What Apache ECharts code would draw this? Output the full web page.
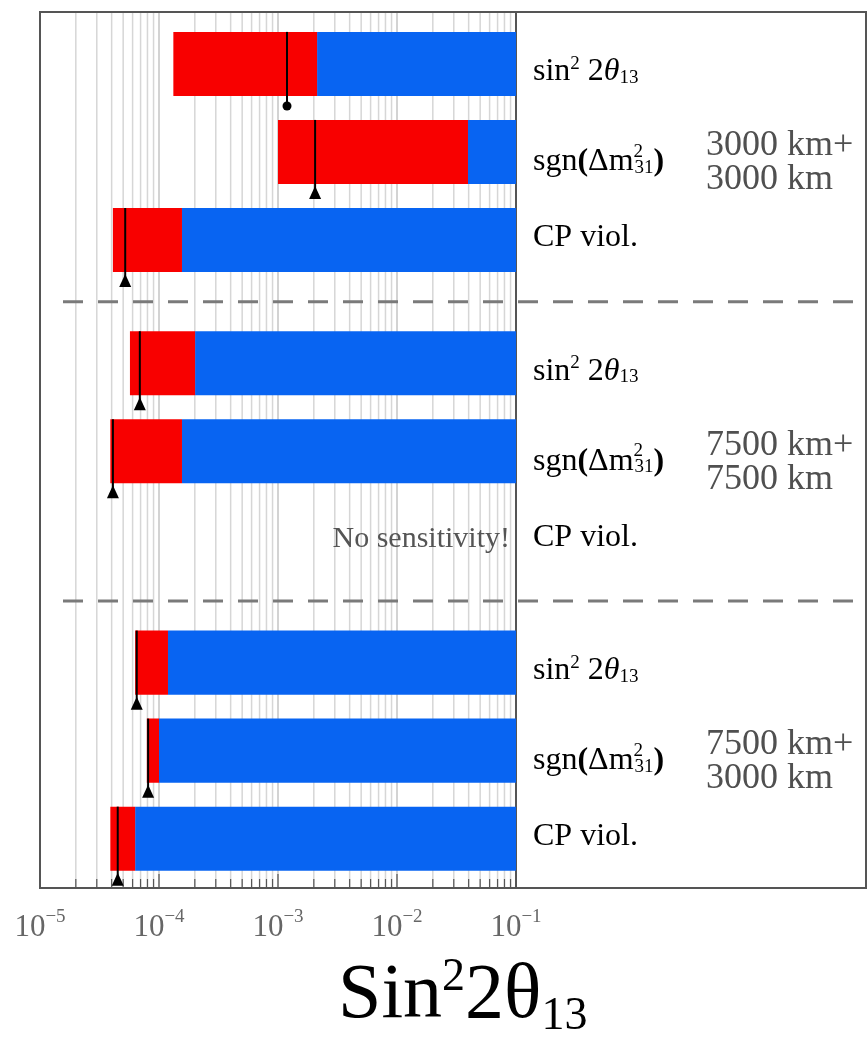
<!DOCTYPE html>
<html>
<head>
<meta charset="utf-8">
<script src="https://cdn.jsdelivr.net/npm/echarts@6/dist/echarts.min.js"></script>
<style>
  html, body { margin: 0; padding: 0; background: #fff; }
  #chart { width: 868px; height: 1041px; }
</style>
</head>
<body>
<div id="chart"></div>
<script>
// rows, top to bottom: three per baseline setup
var rowKinds = ['sin', 'sgn', 'cp', 'sin', 'sgn', 'cp', 'sin', 'sgn', 'cp'];
var groupLabels = [
  ['3000 km+', '3000 km'],
  ['7500 km+', '7500 km'],
  ['7500 km+', '3000 km']
];
// red band: from redStart to redEnd, blue band: redEnd to blueEnd
var redStart = [1.32e-4, 1.0e-3, 4.1e-5, 5.7e-5, 3.9e-5, null, 6.3e-5, 7.9e-5, 3.9e-5];
var redEnd   = [2.13e-3, 3.95e-2, 1.56e-4, 2.01e-4, 1.56e-4, null, 1.19e-4, 1.0e-4, 6.3e-5];
var blueEnd  = [0.1, 0.1, 0.1, 0.1, 0.1, null, 0.1, 0.1, 0.1];
// black arrow markers
var markerVal   = [1.19e-3, 2.05e-3, 5.2e-5, 6.9e-5, 4.1e-5, null, 6.5e-5, 8.1e-5, 4.5e-5];
var markerShape = ['dot', 'tri', 'tri', 'tri', 'tri', null, 'tri', 'tri', 'tri'];
var noSensRow = 5;
var noSensText = 'No sensitivity!';
var xTicks = [1e-5, 1e-4, 1e-3, 1e-2, 1e-1];

var chartDom = document.getElementById('chart');
var myChart = echarts.init(chartDom);
var option;

var SERIF = '"Liberation Serif", "DejaVu Serif", serif';
var TXT = '#505050';
var GROUP_STEP = 3.4;
var Y_MIN = -0.59, Y_MAX = 9.36;
var HALF_H = 0.364;

function rowY(i) {
  return Math.floor(i / 3) * GROUP_STEP + (i % 3);
}

// minor grid positions (2..9 in each decade) plus the decades
var gridVals = [];
for (var d = -5; d <= -2; d++) {
  for (var m = 1; m <= 9; m++) gridVals.push(+(m * Math.pow(10, d)).toPrecision(3));
}
gridVals.push(0.1);

var barData = [];
for (var i = 0; i < rowKinds.length; i++) {
  barData.push([redStart[i], redEnd[i], blueEnd[i], rowY(i), markerVal[i], i]);
}

var labelRich = {
  n: { fontFamily: SERIF, fontSize: 32, color: TXT },
  it: { fontFamily: SERIF, fontSize: 32, fontStyle: 'italic', color: TXT },
  sup: { fontFamily: SERIF, fontSize: 19, color: TXT, padding: [0, 0, 16, 0] },
  sq: { fontFamily: SERIF, fontSize: 19, color: TXT, width: 1, padding: [0, 0, 20, 0] },
  sub: { fontFamily: SERIF, fontSize: 19, color: TXT, padding: [12, 0, 0, 0] },
  b: { fontFamily: SERIF, fontSize: 32, fontWeight: 'bold', color: '#222' }
};
var rowText = {
  sin: '{n|sin}{sup|2}{n| 2}{it|θ}{sub|13}',
  sgn: '{n|sgn}{b|(}{n|Δm}{sq|2}{sub|31}{b|)}',
  cp: '{n|CP viol.}'
};
var rowDy = { sin: 8, sgn: 10, cp: -2 };

option = {
  animation: false,
  backgroundColor: '#fff',
  grid: { left: 40, right: 352, top: 12, bottom: 153, containLabel: false },
  xAxis: {
    type: 'log',
    logBase: 10,
    min: 1e-5,
    max: 0.1,
    axisLine: { show: false },
    axisTick: { show: false },
    splitLine: { show: false },
    axisLabel: {
      margin: 16,
      formatter: function (v) {
        var e = Math.round(Math.log10(v));
        return '{b|10}{s|−' + Math.abs(e) + '}';
      },
      rich: {
        b: { fontFamily: SERIF, fontSize: 31, color: '#666', padding: [8, 0, 0, 0] },
        s: { fontFamily: SERIF, fontSize: 19, color: '#666', padding: [0, 0, 12, 0] }
      }
    }
  },
  yAxis: {
    type: 'value',
    inverse: true,
    min: Y_MIN,
    max: Y_MAX,
    show: false
  },
  series: [
    {
      // vertical grid lines and bottom ticks
      type: 'custom',
      silent: true,
      z: 1,
      data: gridVals.map(function (v) { return [v]; }),
      encode: { x: 0 },
      renderItem: function (params, api) {
        var v = api.value(0);
        var top = api.coord([v, Y_MIN]);
        var bot = api.coord([v, Y_MAX]);
        var major = Math.abs(Math.log10(v) - Math.round(Math.log10(v))) < 1e-6;
        var isEnd = v >= 0.1;
        return {
          type: 'group',
          children: [
            {
              type: 'line',
              shape: { x1: top[0], y1: top[1], x2: bot[0], y2: bot[1] },
              style: { stroke: isEnd ? '#555' : (major ? '#c4c4c4' : '#d6d6d6'), lineWidth: isEnd ? 2 : 1.5 }
            },
            {
              type: 'line',
              shape: { x1: bot[0], y1: bot[1], x2: bot[0], y2: bot[1] - (major ? 14 : 9) },
              style: { stroke: '#555', lineWidth: 1.2 }
            }
          ]
        };
      }
    },
    {
      // red / blue bands with markers and row labels
      type: 'custom',
      z: 2,
      data: barData,
      encode: { x: [0, 1, 2], y: 3 },
      renderItem: function (params, api) {
        var idx = api.value(5);
        var y = api.value(3);
        var kind = rowKinds[idx];
        var children = [];
        var endPt = api.coord([0.1, y]);
        children.push({
          type: 'text',
          style: {
            text: rowText[kind],
            rich: labelRich,
            x: endPt[0] + 17,
            y: endPt[1] + rowDy[kind],
            textVerticalAlign: 'middle'
          }
        });
        if (idx % 3 === 1) {
          var g = groupLabels[Math.floor(idx / 3)];
          children.push({
            type: 'text',
            style: {
              text: g[0] + '\n' + g[1],
              x: endPt[0] + 190,
              y: endPt[1] + 11,
              font: '36px ' + SERIF,
              lineHeight: 34,
              fill: TXT,
              textVerticalAlign: 'middle'
            }
          });
        }
        if (idx === noSensRow) {
          children.push({
            type: 'text',
            style: {
              text: noSensText,
              x: endPt[0] - 6,
              y: endPt[1],
              font: '30px ' + SERIF,
              fill: '#555',
              textAlign: 'right',
              textVerticalAlign: 'middle'
            }
          });
        }
        var r0 = api.value(0), r1 = api.value(1), b1 = api.value(2);
        if (r0 && r1 && b1) {
          var a = api.coord([r0, y - HALF_H]);
          var b = api.coord([r1, y + HALF_H]);
          var c = api.coord([b1, y + HALF_H]);
          children.push({
            type: 'rect',
            shape: { x: b[0], y: a[1], width: c[0] - b[0], height: c[1] - a[1] },
            style: { fill: '#0864f2' }
          });
          children.push({
            type: 'rect',
            shape: { x: a[0], y: a[1], width: b[0] - a[0], height: b[1] - a[1] },
            style: { fill: '#f80000' }
          });
          var mv = api.value(4);
          var mt = api.coord([mv, y - HALF_H]);
          var mb = api.coord([mv, y + HALF_H]);
          var shape = markerShape[idx];
          children.push({
            type: 'line',
            shape: { x1: mt[0], y1: mt[1], x2: mb[0], y2: mb[1] + 10 },
            style: { stroke: '#000', lineWidth: 2 }
          });
          if (shape === 'dot') {
            children.push({
              type: 'circle',
              shape: { cx: mb[0], cy: mb[1] + 10, r: 4.5 },
              style: { fill: '#000' }
            });
          } else {
            children.push({
              type: 'polygon',
              shape: { points: [[mb[0], mb[1] + 2], [mb[0] - 6, mb[1] + 15], [mb[0] + 6, mb[1] + 15]] },
              style: { fill: '#000' }
            });
          }
        }
        return { type: 'group', children: children };
      }
    },
    {
      // dashed separators between the three setups
      type: 'custom',
      silent: true,
      z: 3,
      data: [[2.7], [6.1]],
      encode: { y: 0 },
      renderItem: function (params, api) {
        var p = api.coord([1e-5, api.value(0)]);
        return {
          type: 'line',
          shape: { x1: p[0] + 23, y1: p[1], x2: api.getWidth() - 2, y2: p[1] },
          style: { stroke: '#7a7a7a', lineWidth: 3, lineDash: [20, 15] }
        };
      }
    }
  ],
  graphic: [
    {
      type: 'rect',
      z: 10,
      silent: true,
      shape: { x: 40, y: 12, width: 826, height: 876 },
      style: { fill: null, stroke: '#555', lineWidth: 2 }
    },
    {
      type: 'text',
      left: 338,
      top: 955,
      style: {
        text: '{n|Sin}{sup|2}{n|2θ}{sub|13}',
        rich: {
          n: { fontFamily: SERIF, fontSize: 78, color: '#222' },
          sup: { fontFamily: SERIF, fontSize: 46, color: '#222', padding: [0, 0, 38, 0] },
          sub: { fontFamily: SERIF, fontSize: 46, color: '#222', padding: [40, 0, 0, 0] }
        }
      }
    }
  ]
};

option && myChart.setOption(option);
</script>
</body>
</html>
